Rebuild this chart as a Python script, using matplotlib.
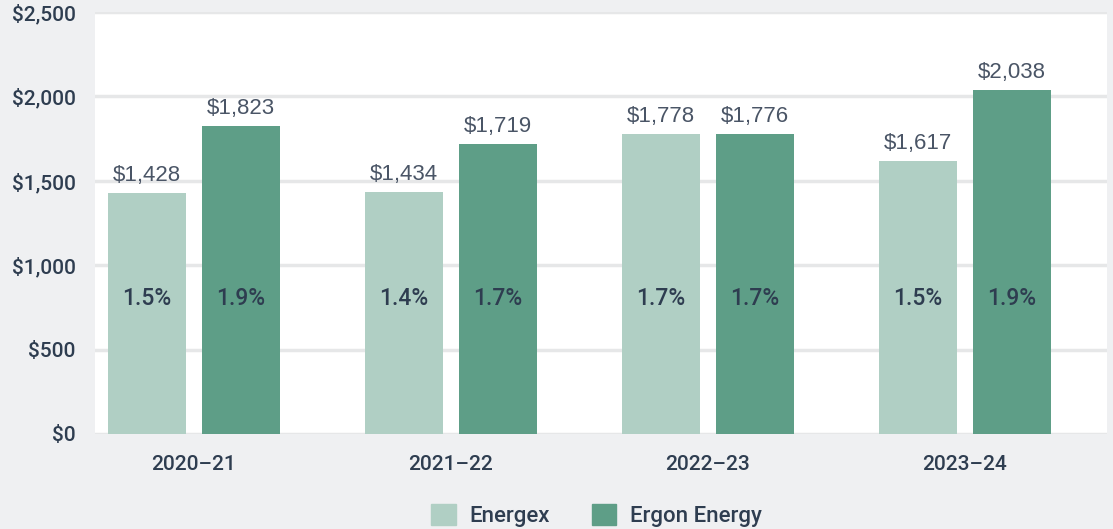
import matplotlib.pyplot as plt
from matplotlib.patches import Patch
import numpy as np

years = ["2020–21", "2021–22", "2022–23", "2023–24"]
energex = [1428, 1434, 1778, 1617]
ergon = [1823, 1719, 1776, 2038]
energex_pct = ["1.5%", "1.4%", "1.7%", "1.5%"]
ergon_pct = ["1.9%", "1.7%", "1.7%", "1.9%"]

bg = "#eff0f2"
light = "#b0cfc4"
dark = "#5e9e87"
txt = "#2e3d50"
grid_col = "#e6e7e8"

plt.rcParams["font.family"] = ["Roboto", "DejaVu Sans"]

fig = plt.figure(figsize=(11.13, 5.29), dpi=100, facecolor=bg)
ax = fig.add_axes([0.0854, 0.1796, 0.9093, 0.7977])
ax.set_facecolor("white")

x = np.arange(len(years))
w = 0.303
off = 0.183

b1 = ax.bar(x - off, energex, w, color=light, zorder=3)
b2 = ax.bar(x + off, ergon, w, color=dark, zorder=3)

# подписи сумм над столбцами
for bars, vals in ((b1, energex), (b2, ergon)):
    for b, v in zip(bars, vals):
        ax.text(b.get_x() + b.get_width() / 2, v + 42, f"${v:,}",
                ha="center", va="bottom", fontsize=16, color="#4a5566",
                family="Liberation Sans")

# проценты внутри столбцов
for i in range(len(years)):
    ax.text(x[i] - off, 805, energex_pct[i], ha="center", va="center",
            fontsize=16.5, fontweight="medium", color=txt, zorder=4)
    ax.text(x[i] + off, 805, ergon_pct[i], ha="center", va="center",
            fontsize=16.5, fontweight="medium", color=txt, zorder=4)

ax.set_xlim(-0.385, 3.553)
ax.set_ylim(0, 2500)
ax.set_yticks(range(0, 2501, 500))
ax.set_yticklabels([f"${v:,}" for v in range(0, 2501, 500)])
ax.set_xticks(x)
ax.set_xticklabels(years)
ax.tick_params(axis="both", length=0, labelsize=15, colors=txt)
ax.tick_params(axis="y", pad=14)
ax.tick_params(axis="x", pad=15)
for lab in ax.get_xticklabels() + ax.get_yticklabels():
    lab.set_fontweight("medium")

ax.yaxis.grid(True, color=grid_col, linewidth=2.5, zorder=0)
ax.set_axisbelow(True)
for s in ax.spines.values():
    s.set_visible(False)

handles = [Patch(color=light, label="Energex"), Patch(color=dark, label="Ergon Energy")]
leg = fig.legend(handles=handles, loc="center", bbox_to_anchor=(0.536, 0.026), ncol=2,
                 frameon=False, fontsize=16, labelcolor=txt, handlelength=1.1,
                 handleheight=1.1, columnspacing=1.9, handletextpad=0.6)
for t in leg.get_texts():
    t.set_fontweight("medium")

plt.savefig("out.png", dpi=100, facecolor=bg)
